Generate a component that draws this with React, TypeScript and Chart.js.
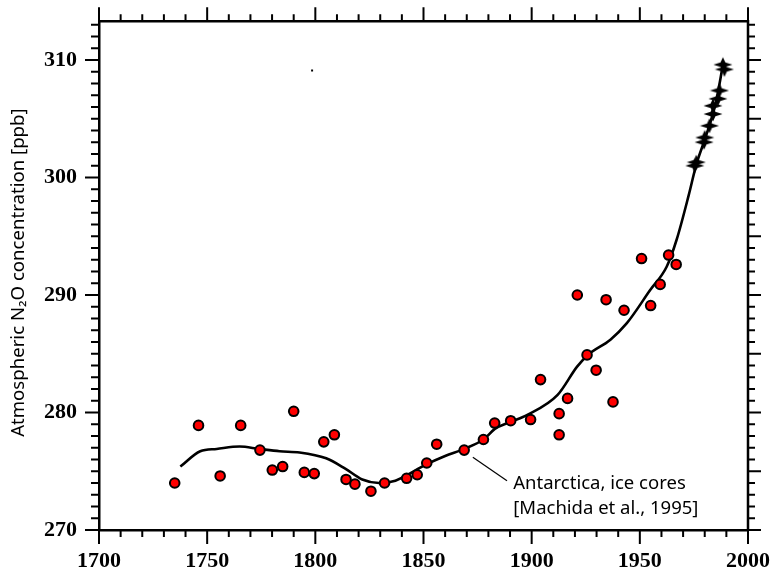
import React, { useEffect, useRef } from "react";
import { Chart, registerables } from "chart.js";

Chart.register(...registerables);

// Smoothed curve (year, ppb)
const curveYears = [1737.6, 1746.8, 1754.4, 1765, 1774, 1783.5, 1792.7, 1805, 1814, 1821.7, 1829.4, 1837, 1851.5, 1860, 1868.8, 1877.7, 1883, 1890.3, 1898, 1912, 1921, 1926, 1936.4, 1944, 1954.7, 1962.4, 1967, 1972.6, 1976.1, 1980.7, 1985.3, 1988.6];
const curveValues = [275.4, 276.7, 276.9, 277.1, 276.9, 276.7, 276.6, 276.1, 275.2, 274.3, 274.0, 274.2, 275.6, 276.3, 276.9, 277.7, 278.6, 279.2, 279.8, 281.5, 283.9, 284.9, 286.2, 287.6, 290.4, 292.4, 294.7, 298.5, 301.1, 303.6, 306.5, 309.8];

// Antarctic ice core samples (red circles)
const iceYears = [1735, 1746, 1756, 1765.5, 1774.4, 1780.1, 1784.9, 1790, 1794.9, 1799.5, 1803.9, 1808.8, 1814.2, 1818.3, 1825.7, 1832, 1842.2, 1847.1, 1851.5, 1856.1, 1868.8, 1877.7, 1882.9, 1890.3, 1899.5, 1904.1, 1912.7, 1912.7, 1916.6, 1921.1, 1925.6, 1929.8, 1934.4, 1937.6, 1942.7, 1950.8, 1955, 1959.4, 1963.3, 1966.8];
const iceValues = [274.0, 278.9, 274.6, 278.9, 276.8, 275.1, 275.4, 280.1, 274.9, 274.8, 277.5, 278.1, 274.3, 273.9, 273.3, 274.0, 274.4, 274.7, 275.7, 277.3, 276.8, 277.7, 279.1, 279.3, 279.4, 282.8, 279.9, 278.1, 281.2, 290.0, 284.9, 283.6, 289.6, 280.9, 288.7, 293.1, 289.1, 290.9, 293.4, 292.6];

// Recent measurements (black stars)
const starYears = [1975.4, 1976.1, 1979.7, 1980.0, 1982.2, 1983.8, 1983.8, 1986.1, 1986.8, 1988.4, 1989.1];
const starValues = [301.0, 301.3, 303.0, 303.4, 304.4, 305.4, 306.1, 306.7, 307.4, 309.6, 309.2];

// stray dot in the original figure
const dotYears = [1798.5];
const dotValues = [309.1];

const xMin = 1700;
const xMax = 2000;
const yMin = 270;
const yMax = 313.3;

const yTitle = "Atmospheric N\u2082O concentration [ppb]";
const noteLines = ["Antarctica, ice cores", "[Machida et al., 1995]"];

function pairs(xs: number[], ys: number[]) {
  return xs.map((x, i) => ({ x, y: ys[i] }));
}

function makeStar(): HTMLCanvasElement {
  const c = document.createElement("canvas");
  c.width = 20;
  c.height = 18;
  const g = c.getContext("2d")!;
  g.fillStyle = "#000";
  const cx = 10, cy = 9;
  g.beginPath();
  g.moveTo(cx, cy - 7.5);
  g.lineTo(cx + 2.4, cy - 2.2);
  g.lineTo(cx + 9.5, cy);
  g.lineTo(cx + 2.4, cy + 2.2);
  g.lineTo(cx, cy + 7.5);
  g.lineTo(cx - 2.4, cy + 2.2);
  g.lineTo(cx - 9.5, cy);
  g.lineTo(cx - 2.4, cy - 2.2);
  g.closePath();
  g.fill();
  return c;
}

const framePlugin = {
  id: "frameTicks",
  afterDraw(chart: any) {
    const ctx = chart.ctx;
    const { left, right, top, bottom } = chart.chartArea;
    const xs = chart.scales.x;
    const ys = chart.scales.y;
    ctx.save();
    ctx.strokeStyle = "#000";
    ctx.lineWidth = 2.5;
    ctx.beginPath();
    ctx.moveTo(left, top);
    ctx.lineTo(right, top);
    ctx.lineTo(right, bottom);
    ctx.stroke();
    ctx.lineWidth = 2;
    ctx.beginPath();
    for (let v = xMin; v <= xMax; v += 10) {
      const px = xs.getPixelForValue(v);
      const major = v % 50 === 0;
      const len = major ? 14 : 7;
      ctx.moveTo(px, bottom);
      ctx.lineTo(px, bottom + len);
      ctx.moveTo(px, top);
      ctx.lineTo(px, top - len);
    }
    for (let v = yMin; v <= yMax; v += 1) {
      const py = ys.getPixelForValue(v);
      const majorL = v % 10 === 0;
      const majorR = v % 5 === 0;
      ctx.moveTo(left, py);
      ctx.lineTo(left - (majorL ? 14 : 8), py);
      ctx.moveTo(right, py);
      ctx.lineTo(right + (majorR ? 13 : 7), py);
    }
    ctx.stroke();

    // annotation leader + text
    ctx.lineWidth = 1.2;
    ctx.beginPath();
    ctx.moveTo(xs.getPixelForValue(1872.8), ys.getPixelForValue(276.2));
    ctx.lineTo(xs.getPixelForValue(1888.6), ys.getPixelForValue(274.2));
    ctx.stroke();
    ctx.fillStyle = "#000";
    ctx.font = "18.5px 'Noto Sans'";
    ctx.textBaseline = "middle";
    ctx.textAlign = "left";
    const tx = xs.getPixelForValue(1891.5);
    ctx.fillText(noteLines[0], tx, ys.getPixelForValue(273.9));
    ctx.fillText(noteLines[1], tx, ys.getPixelForValue(271.85));

    // y title
    ctx.font = "18.6px 'Noto Sans'";
    ctx.textAlign = "center";
    ctx.translate(19, ys.getPixelForValue(291.9));
    ctx.rotate(-Math.PI / 2);
    ctx.fillText(yTitle, 0, 0);
    ctx.restore();
  },
};

export default function App() {
  const ref = useRef<HTMLCanvasElement>(null);
  useEffect(() => {
    if (!ref.current) return;
    const star = makeStar();
    const chart = new Chart(ref.current, {
      type: "scatter",
      data: {
        datasets: [
          {
            type: "line",
            data: pairs(curveYears, curveValues),
            borderColor: "#000",
            borderWidth: 2.6,
            pointRadius: 0,
            cubicInterpolationMode: "monotone",
            fill: false,
            order: 2,
          } as any,
          {
            data: pairs(iceYears, iceValues),
            backgroundColor: "#ff0000",
            borderColor: "#000",
            borderWidth: 2,
            pointRadius: 4.8,
            order: 1,
          },
          {
            data: pairs(starYears, starValues),
            pointStyle: star as any,
            pointRadius: 9,
            order: 0,
          },
          {
            data: pairs(dotYears, dotValues),
            pointStyle: "rect",
            backgroundColor: "#000",
            borderColor: "#000",
            borderWidth: 0,
            pointRadius: 1.4,
            order: 0,
          },
        ],
      },
      options: {
        animation: false,
        responsive: false,
        maintainAspectRatio: false,
        layout: { padding: { top: 20, right: 22, left: 0, bottom: 0 } },
        plugins: { legend: { display: false }, tooltip: { enabled: false } },
        scales: {
          x: {
            type: "linear",
            min: xMin,
            max: xMax,
            afterFit: (s: any) => { s.height = 41; },
            grid: { display: false, drawTicks: true, tickLength: 14 },
            border: { display: true, color: "#000", width: 2.5 },
            ticks: {
              stepSize: 50,
              includeBounds: false,
              padding: 4,
              color: "#000",
              maxRotation: 0,
              callback: (v: any) => String(v),
              font: { family: "'Liberation Serif'", size: 22, weight: "bold" },
            },
          },
          y: {
            type: "linear",
            min: yMin,
            max: yMax,
            afterFit: (s: any) => { s.width = 99; },
            grid: { display: false, drawTicks: true, tickLength: 14 },
            border: { display: true, color: "#000", width: 2.5 },
            ticks: {
              stepSize: 10,
              includeBounds: false,
              padding: 8,
              color: "#000",
              callback: (v: any) => String(v),
              font: { family: "'Liberation Serif'", size: 22, weight: "bold" },
            },
          },
        },
      },
      plugins: [framePlugin],
    } as any);
    return () => chart.destroy();
  }, []);
  return (
    <div style={{ position: "fixed", left: 0, top: 0, width: 774, height: 571, background: "#fff" }}>
      <canvas ref={ref} width={774} height={571} />
    </div>
  );
}
